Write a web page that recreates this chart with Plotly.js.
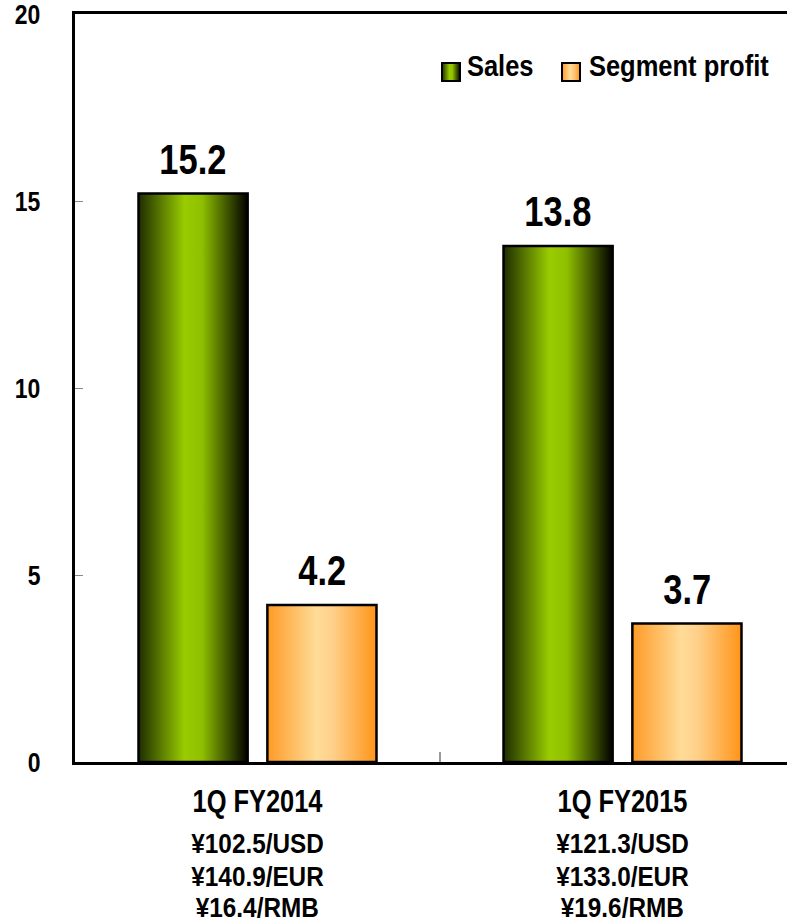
<!DOCTYPE html>
<html>
<head>
<meta charset="utf-8">
<script src="https://cdn.plot.ly/plotly-3.0.1.min.js"></script>
<style>
  html, body { margin: 0; padding: 0; background: #fff; overflow: hidden; }
  #chart { width: 787px; height: 923px; }
</style>
</head>
<body>
<div id="chart"></div>
<script>
// Quarterly figures (billions of yen) and the exchange rates used for each period
const periods = ["1Q FY2014", "1Q FY2015"];
const sales = [15.2, 13.8];
const segmentProfit = [4.2, 3.7];
const rateLines = [
  ["¥102.5/USD", "¥140.9/EUR", "¥16.4/RMB"],
  ["¥121.3/USD", "¥133.0/EUR", "¥19.6/RMB"]
];
const seriesNames = ["Sales", "Segment profit"];
const yTicks = [0, 5, 10, 15, 20];

const FONT = '"Liberation Sans", Arial, sans-serif';
const W = 787, H = 923, ML = 75, MT = 14, MB = 161;
const plotW = W - ML, plotH = H - MT - MB;
const px2x = p => (p - ML) / plotW;          // pixel -> paper x
const px2y = p => (H - MB - p) / plotH;      // pixel -> paper y

const barW = 0.299;     // bar width in category units
const innerGap = 0.027; // half gap between paired bars
const xIdx = periods.map((_, i) => i);

const traces = [
  {
    type: "bar", name: seriesNames[0], x: xIdx, y: sales,
    width: barW, offset: -innerGap - barW,
    marker: { color: "#99cc00", line: { color: "#000", width: 2.5 } },
    hoverinfo: "y", showlegend: false
  },
  {
    type: "bar", name: seriesNames[1], x: xIdx, y: segmentProfit,
    width: barW, offset: innerGap,
    marker: { color: "#ffb860", line: { color: "#000", width: 2.5 } },
    hoverinfo: "y", showlegend: false
  }
];

const bold = (size) => ({ family: FONT, size: size, color: "#000", weight: "bold" });

const annotations = [];
const centreShift = innerGap + barW / 2;
sales.forEach((v, i) => annotations.push({
  x: i - centreShift, y: v, xref: "x", yref: "y", text: v.toFixed(1),
  showarrow: false, yanchor: "bottom", yshift: 9, font: bold(42)
}));
segmentProfit.forEach((v, i) => annotations.push({
  x: i + centreShift, y: v, xref: "x", yref: "y", text: v.toFixed(1),
  showarrow: false, yanchor: "bottom", yshift: 9, font: bold(42)
}));
rateLines.forEach((lines, i) => lines.forEach((t, k) => annotations.push({
  x: i, y: 0, xref: "x", yref: "paper", text: t, showarrow: false,
  yanchor: "middle", yshift: -(82 + 33 * k) + (k === 2 ? 2 : 0), font: bold(27)
})));

// legend: swatches as shapes, names as annotations
const legendItems = [
  { box: [442, 460], textCentre: 500 },
  { box: [562, 580], textCentre: 679 }
];
const shapes = [{
  // boundary tick between the two periods
  type: "line", xref: "x", yref: "y", x0: 0.5, x1: 0.5, y0: 0, y1: 0.27,
  line: { color: "#999", width: 2 }
}];
legendItems.forEach((it, i) => {
  shapes.push({
    type: "rect", xref: "paper", yref: "paper", layer: "above",
    x0: px2x(it.box[0]), x1: px2x(it.box[1]), y0: px2y(81), y1: px2y(63),
    fillcolor: i === 0 ? "#99cc00" : "#ffb860", line: { color: "#000", width: 2 }
  });
  annotations.push({
    x: px2x(it.textCentre), y: px2y(66), xref: "paper", yref: "paper",
    xanchor: "center", yanchor: "middle", text: seriesNames[i],
    showarrow: false, font: bold(30), name: "legendText"
  });
});

const layout = {
  width: W, height: H,
  margin: { l: ML, r: 0, t: MT, b: MB },
  paper_bgcolor: "#fff", plot_bgcolor: "#fff",
  showlegend: false,
  xaxis: {
    type: "linear", range: [-0.5, -0.5 + plotW / 365],
    tickmode: "array", tickvals: xIdx, ticktext: periods,
    ticks: "", showgrid: false, zeroline: false,
    showline: true, linecolor: "#000", linewidth: 3, mirror: true,
    ticklabelstandoff: 10, tickfont: bold(31), fixedrange: true
  },
  yaxis: {
    range: [0, 20], tickmode: "array", tickvals: yTicks,
    ticks: "inside", ticklen: 8, tickwidth: 1, tickcolor: "#888",
    showgrid: false, zeroline: false,
    showline: true, linecolor: "#000", linewidth: 3,
    ticklabelstandoff: 26, ticklabeloverflow: "allow",
    tickfont: bold(28), fixedrange: true
  },
  shapes: shapes,
  annotations: annotations,
  bargap: 0
};

Plotly.newPlot("chart", traces, layout, { staticPlot: true }).then(gd => {
  const svg = gd.querySelector("svg.main-svg");
  const NS = "http://www.w3.org/2000/svg";

  // horizontal shading of the bars and swatches
  const defs = document.createElementNS(NS, "defs");
  const grads = {
    gSales: [["0%", "#1e2c00"], ["42%", "#99cc00"], ["58%", "#8fc000"], ["100%", "#000000"]],
    gProfit: [["0%", "#ff9a26"], ["45%", "#ffdc98"], ["60%", "#ffd08a"], ["100%", "#ff9418"]]
  };
  Object.keys(grads).forEach(id => {
    const lg = document.createElementNS(NS, "linearGradient");
    lg.setAttribute("id", id);
    lg.setAttribute("x1", "0"); lg.setAttribute("y1", "0");
    lg.setAttribute("x2", "1"); lg.setAttribute("y2", "0");
    grads[id].forEach(([off, col]) => {
      const st = document.createElementNS(NS, "stop");
      st.setAttribute("offset", off);
      st.setAttribute("stop-color", col);
      lg.appendChild(st);
    });
    defs.appendChild(lg);
  });
  svg.insertBefore(defs, svg.firstChild);
  const ids = ["gSales", "gProfit"];
  gd.querySelectorAll(".barlayer .trace").forEach((tr, i) => {
    tr.querySelectorAll("path").forEach(p => { p.style.fill = "url(#" + ids[i] + ")"; });
  });
  gd.querySelectorAll(".shapelayer path[data-index]").forEach(p => {
    const idx = +p.getAttribute("data-index");
    if (idx >= 1) p.style.fill = "url(#" + ids[idx - 1] + ")";
  });

  // narrow the lettering (condensed bold face) and shrink annotation boxes to suit
  gd.querySelectorAll("text").forEach(t => {
    const s = t.textContent || "";
    if (!s.trim()) return;
    let factor = 0.82;
    if (s.startsWith("¥")) factor = 0.9;
    else if (seriesNames.includes(s)) factor = 0.85;
    const len = t.getComputedTextLength();
    const newLen = len * factor;
    if (seriesNames.includes(s)) {
      // scale about the text centre
      const anchor = t.getAttribute("text-anchor") || "start";
      const x = parseFloat(t.getAttribute("x")) || 0;
      const cx = anchor === "middle" ? x : anchor === "end" ? x - len / 2 : x + len / 2;
      const prev = t.getAttribute("transform") || "";
      t.setAttribute("transform",
        prev + " translate(" + cx + ",0) scale(" + factor + ",1) translate(" + (-cx) + ",0)");
    } else {
      t.setAttribute("textLength", newLen.toFixed(2));
      t.setAttribute("lengthAdjust", "spacingAndGlyphs");
    }
    const ann = t.closest(".annotation");
    if (ann) {
      const bg = ann.querySelector("rect.bg");
      if (bg) {
        const d = len - newLen;
        const bx = parseFloat(bg.getAttribute("x")) || 0;
        const bw = parseFloat(bg.getAttribute("width")) || 0;
        bg.setAttribute("x", (bx + d / 2).toFixed(2));
        bg.setAttribute("width", Math.max(0, bw - d).toFixed(2));
      }
    }
  });
});
</script>
</body>
</html>
